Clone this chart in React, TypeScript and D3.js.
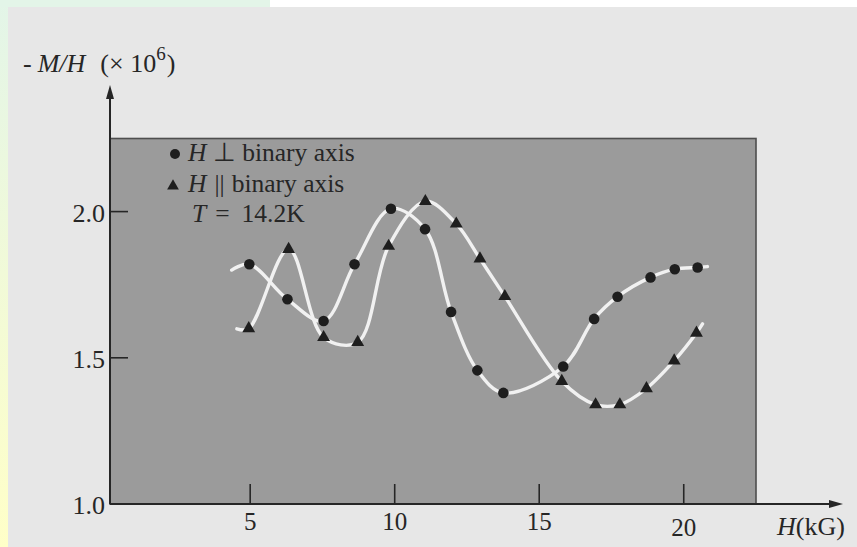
import React, { useRef, useEffect } from 'react';
import * as d3 from 'd3';

// H (kG) and -M/H (x 10^6)
const perpH = [4.97, 6.29, 7.54, 8.61, 9.87, 11.05, 11.95, 12.86, 13.76, 15.83, 16.9, 17.71, 18.85, 19.69, 20.48];
const perpChi = [1.82, 1.70, 1.626, 1.82, 2.01, 1.94, 1.657, 1.457, 1.38, 1.47, 1.633, 1.709, 1.775, 1.803, 1.809];
const paraH = [4.95, 6.33, 7.54, 8.72, 9.79, 11.06, 12.13, 12.95, 13.81, 15.78, 16.95, 17.79, 18.71, 19.67, 20.44];
const paraChi = [1.60, 1.871, 1.57, 1.553, 1.882, 2.035, 1.958, 1.839, 1.71, 1.42, 1.34, 1.34, 1.395, 1.49, 1.585];

// where the hand-drawn curves start and stop
const perpCurveEnds = [[4.36, 1.80], [20.82, 1.812]];
const paraCurveEnds = [[4.54, 1.599], [20.65, 1.616]];

const xTicks = [5, 10, 15, 20];
const yTicks = [1.5, 2.0];
const yTickLabels = ['1.0', '1.5', '2.0'];
const yLabelValues = [1.0, 1.5, 2.0];

const W = 857;
const H = 547;

const App: React.FC = () => {
    const svgRef = useRef<SVGSVGElement>(null);

    useEffect(() => {
        if (!svgRef.current) return;
        const svg = d3.select(svgRef.current);
        svg.selectAll('*').remove();

        const font = '"Liberation Serif", "Times New Roman", serif';
        const ink = '#262626';

        const x = d3.scaleLinear().domain([0.15, 22.5]).range([110, 756]);
        const y = d3.scaleLinear().domain([1.0, 2.25]).range([504, 138.5]);

        // paper
        const defs = svg.append('defs');
        const grad = defs.append('linearGradient')
            .attr('id', 'edge')
            .attr('x1', 0).attr('y1', 0).attr('x2', 0).attr('y2', 1);
        grad.append('stop').attr('offset', '0%').attr('stop-color', '#e3f5e8');
        grad.append('stop').attr('offset', '100%').attr('stop-color', '#ffffc8');

        svg.append('rect').attr('width', W).attr('height', H).attr('fill', '#e7e7e7');
        svg.append('rect').attr('x', 0).attr('y', 0).attr('width', 8).attr('height', H).attr('fill', 'url(#edge)');
        svg.append('rect').attr('x', 0).attr('y', 0).attr('width', 270).attr('height', 7).attr('fill', '#e3f5e8');
        svg.append('rect').attr('x', 270).attr('y', 0).attr('width', W - 270).attr('height', 7).attr('fill', '#ffffff');

        // shaded plot region
        svg.append('rect')
            .attr('x', x(0.15))
            .attr('y', y(2.25))
            .attr('width', x(22.5) - x(0.15))
            .attr('height', y(1.0) - y(2.25))
            .attr('fill', '#9b9b9b')
            .attr('stroke', '#4e4e4e')
            .attr('stroke-width', 1.6);

        // axes with arrows
        svg.append('line')
            .attr('x1', x(0.15)).attr('y1', y(1.0))
            .attr('x2', x(0.15)).attr('y2', 92)
            .attr('stroke', ink).attr('stroke-width', 2);
        svg.append('path')
            .attr('d', `M${x(0.15)},85 L${x(0.15) - 4},99 L${x(0.15) + 4},99 Z`)
            .attr('fill', ink);
        svg.append('line')
            .attr('x1', x(0.15)).attr('y1', y(1.0))
            .attr('x2', 836).attr('y2', y(1.0))
            .attr('stroke', ink).attr('stroke-width', 2);
        svg.append('path')
            .attr('d', `M843,${y(1.0)} L829,${y(1.0) - 4} L829,${y(1.0) + 4} Z`)
            .attr('fill', ink);

        // ticks, drawn inward
        xTicks.forEach(t => {
            svg.append('line')
                .attr('x1', x(t)).attr('x2', x(t))
                .attr('y1', y(1.0)).attr('y2', y(1.0) - 20)
                .attr('stroke', ink).attr('stroke-width', 1.6);
            svg.append('text')
                .attr('x', x(t))
                .attr('y', t === 20 ? 536 : 530)
                .attr('text-anchor', 'middle')
                .attr('font-family', font)
                .attr('font-size', 25)
                .attr('fill', ink)
                .text(String(t));
        });
        yTicks.forEach(t => {
            svg.append('line')
                .attr('x1', x(0.15)).attr('x2', x(0.15) + 18)
                .attr('y1', y(t)).attr('y2', y(t))
                .attr('stroke', ink).attr('stroke-width', 1.6);
        });
        yLabelValues.forEach((v, i) => {
            svg.append('text')
                .attr('x', 105)
                .attr('y', y(v) + 10)
                .attr('text-anchor', 'end')
                .attr('font-family', font)
                .attr('font-size', 26)
                .attr('fill', ink)
                .text(yTickLabels[i]);
        });

        // axis titles
        const yt = svg.append('text')
            .attr('x', 23).attr('y', 72)
            .attr('font-family', font)
            .attr('font-size', 26)
            .attr('fill', ink);
        yt.append('tspan').text('-');
        yt.append('tspan').attr('dx', 6).attr('font-style', 'italic').text('M/H');
        yt.append('tspan').attr('dx', 15).text('(× 10');
        yt.append('tspan').attr('dy', -12).attr('font-size', 19).text('6');
        yt.append('tspan').attr('dy', 12).attr('dx', 1).text(')');

        const xt = svg.append('text')
            .attr('x', 777).attr('y', 535)
            .attr('font-family', font)
            .attr('font-size', 26)
            .attr('fill', ink);
        xt.append('tspan').attr('font-style', 'italic').text('H');
        xt.append('tspan').text('(kG)');

        // smooth curves
        const line = d3.line<number[]>()
            .x(d => x(d[0]))
            .y(d => y(d[1]))
            .curve(d3.curveCatmullRom.alpha(0.5));

        const perpPts = [perpCurveEnds[0], ...perpH.map((h, i) => [h, perpChi[i]]), perpCurveEnds[1]];
        const paraPts = [paraCurveEnds[0], ...paraH.map((h, i) => [h, paraChi[i]]), paraCurveEnds[1]];

        [perpPts, paraPts].forEach(pts => {
            svg.append('path')
                .attr('d', line(pts) || '')
                .attr('fill', 'none')
                .attr('stroke', '#f1f1f1')
                .attr('stroke-width', 3.4)
                .attr('stroke-linecap', 'round');
        });

        // markers
        const tri = d3.symbol().type(d3.symbolTriangle).size(72);
        perpH.forEach((h, i) => {
            svg.append('circle')
                .attr('cx', x(h)).attr('cy', y(perpChi[i]))
                .attr('r', 5.3)
                .attr('fill', '#1e1e1e');
        });
        paraH.forEach((h, i) => {
            svg.append('path')
                .attr('d', tri() || '')
                .attr('transform', `translate(${x(h)},${y(paraChi[i])})`)
                .attr('fill', '#1e1e1e');
        });

        // legend
        const lg = svg.append('g').attr('font-family', font).attr('font-size', 25.5).attr('fill', ink);
        lg.append('circle').attr('cx', 175).attr('cy', 154).attr('r', 5).attr('fill', '#1e1e1e');
        const l1 = lg.append('text').attr('x', 188).attr('y', 161);
        l1.append('tspan').attr('font-style', 'italic').text('H');
        l1.append('tspan').text(' ⊥ binary axis');
        lg.append('path')
            .attr('d', d3.symbol().type(d3.symbolTriangle).size(60)() || '')
            .attr('transform', 'translate(173,186)')
            .attr('fill', '#1e1e1e');
        const l2 = lg.append('text').attr('x', 188).attr('y', 192);
        l2.append('tspan').attr('font-style', 'italic').text('H');
        l2.append('tspan').attr('dx', 8).text('||');
        l2.append('tspan').attr('dx', 7).text('binary axis');
        const l3 = lg.append('text').attr('x', 192).attr('y', 222);
        l3.append('tspan').attr('font-style', 'italic').text('T');
        l3.append('tspan').attr('dx', 9).text('=');
        l3.append('tspan').attr('dx', 12).text('14.2K');
    }, []);

    return (
        <svg
            ref={svgRef}
            width={W}
            height={H}
            style={{ position: 'absolute', left: 0, top: 0, display: 'block' }}
        />
    );
};

export default App;
